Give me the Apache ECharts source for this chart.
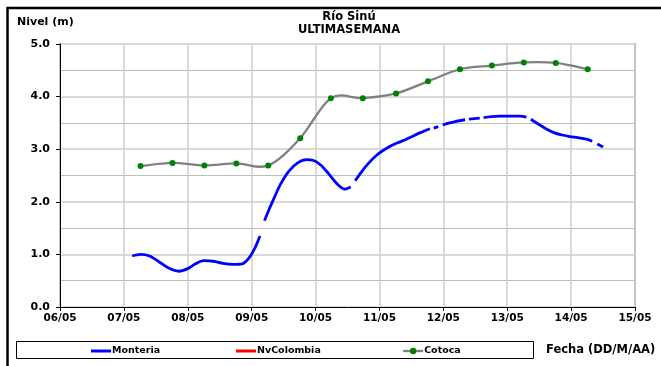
<!DOCTYPE html>
<html>
<head>
<meta charset="utf-8">
<script src="https://cdn.jsdelivr.net/npm/echarts@6/dist/echarts.min.js"></script>
<style>
  html, body { margin: 0; padding: 0; background: #fff; }
  #chart { width: 661px; height: 366px; }
</style>
</head>
<body>
<div id="chart"></div>
<script>
// Day of May (fractional) and river level in metres; null marks a gap in the record.
const montDays = [
  7.13, 7.26, 7.40, 7.55, 7.70, 7.86, 8.00, 8.12, 8.25, 8.40, 8.55, 8.70, 8.85, 8.95, 9.05, 9.13,
  9.16,
  9.20, 9.27, 9.34, 9.45, 9.58, 9.72, 9.86, 9.96, 10.08, 10.20, 10.33, 10.46, 10.55,
  10.58,
  10.62, 10.72, 10.82, 10.96, 11.16, 11.30, 11.42, 11.63, 11.79,
  11.82,
  11.85, 11.92,
  11.95,
  11.99, 12.10, 12.20, 12.34,
  12.37,
  12.40, 12.57,
  12.60,
  12.63, 12.75, 12.88, 13.00, 13.10, 13.20, 13.30,
  13.34,
  13.37, 13.51, 13.62, 13.74, 13.86, 13.98, 14.10, 14.24, 14.33,
  14.37,
  14.41, 14.50
];
const montLevels = [
  0.97, 1.00, 0.97, 0.86, 0.74, 0.68, 0.73, 0.82, 0.88, 0.87, 0.83, 0.81, 0.82, 0.92, 1.12, 1.35,
  null,
  1.64, 1.85, 2.04, 2.33, 2.58, 2.74, 2.80, 2.79, 2.70, 2.54, 2.35, 2.24, 2.28,
  null,
  2.40, 2.57, 2.72, 2.89, 3.05, 3.13, 3.19, 3.31, 3.39,
  null,
  3.40, 3.43,
  null,
  3.46, 3.50, 3.53, 3.56,
  null,
  3.57, 3.59,
  null,
  3.60, 3.62, 3.63, 3.63, 3.63, 3.63, 3.61,
  null,
  3.57, 3.46, 3.38, 3.31, 3.27, 3.24, 3.22, 3.19, 3.15,
  null,
  3.10, 3.04
];
const nvColDays = [];
const nvColLevels = [];
const cotDays = [7.26, 7.76, 8.26, 8.76, 9.26, 9.76, 10.24, 10.74, 11.26, 11.76, 12.26, 12.76, 13.26, 13.76, 14.26];
const cotLevels = [2.68, 2.74, 2.69, 2.73, 2.69, 3.21, 3.97, 3.97, 4.06, 4.29, 4.52, 4.59, 4.65, 4.64, 4.52];
const xTickLabels = ['06/05', '07/05', '08/05', '09/05', '10/05', '11/05', '12/05', '13/05', '14/05', '15/05'];

const pair = (xs, ys) => xs.map((x, i) => [x, ys[i] === null ? '-' : ys[i]]);
const FONT = 'DejaVu Sans';
const legendText = { fontFamily: FONT, fontSize: 9.5, fontWeight: 'bold', color: '#000', padding: [0, 0, 0, -4] };

// Cardinal (Catmull-Rom) curve through the Cotoca readings, placed with the chart's own axes.
function cotocaCurve(params, api) {
  const pts = cotDays.map((d, i) => api.coord([d, cotLevels[i]]));
  const n = pts.length;
  const children = [];
  for (let i = 0; i < n - 1; i++) {
    const p0 = pts[Math.max(i - 1, 0)], p1 = pts[i], p2 = pts[i + 1], p3 = pts[Math.min(i + 2, n - 1)];
    children.push({
      type: 'bezierCurve',
      shape: {
        x1: p1[0], y1: p1[1], x2: p2[0], y2: p2[1],
        cpx1: p1[0] + (p2[0] - p0[0]) / 6, cpy1: p1[1] + (p2[1] - p0[1]) / 6,
        cpx2: p2[0] - (p3[0] - p1[0]) / 6, cpy2: p2[1] - (p3[1] - p1[1]) / 6
      },
      style: { stroke: '#808080', lineWidth: 2.3, fill: null }
    });
  }
  return { type: 'group', children };
}

const chart = echarts.init(document.getElementById('chart'), null, { renderer: 'canvas' });
chart.setOption({
  backgroundColor: '#ffffff',
  animation: false,
  title: {
    text: 'Río Sinú',
    subtext: 'ULTIMASEMANA',
    left: 349,
    top: 11,
    textAlign: 'center',
    itemGap: 1,
    padding: 0,
    textStyle: { fontFamily: FONT, fontSize: 11.5, fontWeight: 'bold', color: '#000' },
    subtextStyle: { fontFamily: FONT, fontSize: 11.5, fontWeight: 'bold', color: '#000' }
  },
  grid: {
    left: 60, right: 26, top: 44, bottom: 59,
    show: true, borderColor: '#a6a6a6', borderWidth: 2, backgroundColor: '#fff'
  },
  legend: [
    { data: [{ name: 'Monteria', icon: 'rect' }], left: 91, top: 346, itemHeight: 3 },
    { data: [{ name: 'NvColombia', icon: 'rect' }], left: 236, top: 346, itemHeight: 3 },
    { data: ['Cotoca'], left: 402, top: 346, itemHeight: 8,
      lineStyle: { color: '#808080', width: 2.3, opacity: 1 } }
  ].map(l => Object.assign(l, {
    itemWidth: 20, itemGap: 2, padding: 0, textStyle: legendText
  })),
  xAxis: {
    type: 'value', min: 6, max: 15, interval: 1,
    axisLine: { show: true, lineStyle: { color: '#000', width: 1 } },
    axisTick: { show: true, length: 4, lineStyle: { color: '#000' } },
    axisLabel: {
      margin: 6, fontFamily: FONT, fontSize: 10.5, fontWeight: 'bold', color: '#000',
      formatter: v => xTickLabels[Math.round(v - 6)]
    },
    splitLine: { show: true, lineStyle: { color: '#cfcfcf', width: 1.5 } }
  },
  yAxis: {
    type: 'value', min: 0, max: 5, interval: 1,
    axisLine: { show: true, lineStyle: { color: '#000', width: 1 } },
    axisTick: { show: true, length: 4, lineStyle: { color: '#000' } },
    axisLabel: {
      margin: 10, fontFamily: FONT, fontSize: 11, fontWeight: 'bold', color: '#000',
      formatter: v => v.toFixed(1)
    },
    splitLine: { show: true, lineStyle: { color: '#dadada', width: 2 } },
    minorTick: { show: false, splitNumber: 2 },
    minorSplitLine: { show: true, lineStyle: { color: '#bdbdbd', width: 1 } }
  },
  series: [
    {
      name: 'Monteria', type: 'line', data: pair(montDays, montLevels),
      smooth: 0.3, connectNulls: false, showSymbol: false, symbol: 'none',
      lineStyle: { color: '#0000ff', width: 2.8 }, itemStyle: { color: '#0000ff' }, z: 3
    },
    {
      name: 'NvColombia', type: 'line', data: pair(nvColDays, nvColLevels),
      symbol: 'none', lineStyle: { color: '#ff0000', width: 2.5 }, itemStyle: { color: '#ff0000' }
    },
    {
      name: 'Cotoca', type: 'line', data: pair(cotDays, cotLevels),
      symbol: 'circle', symbolSize: 6,
      lineStyle: { color: '#808080', width: 2.3, opacity: 0 }, itemStyle: { color: '#008000' }, z: 4
    },
    {
      type: 'custom', data: [[cotDays[0], cotLevels[0]]],
      renderItem: cotocaCurve, silent: true, z: 2
    }
  ],
  graphic: [
    // outer frame (top and left edges)
    { type: 'line', shape: { x1: 7, y1: 8, x2: 661, y2: 8 }, style: { stroke: '#000', lineWidth: 2.5 } },
    { type: 'line', shape: { x1: 7.5, y1: 7, x2: 7.5, y2: 366 }, style: { stroke: '#000', lineWidth: 2.5 } },
    // legend box
    { type: 'rect', shape: { x: 16.5, y: 341.5, width: 517, height: 17 }, style: { fill: 'none', stroke: '#000', lineWidth: 1 }, z: -1 },
    { type: 'text', left: 17, top: 17, style: { text: 'Nivel (m)', font: 'bold 11px "DejaVu Sans"', fill: '#000' } },
    { type: 'text', left: 546, top: 344, style: { text: 'Fecha (DD/M/AA)', font: 'bold 11.5px "DejaVu Sans"', fill: '#000' } }
  ]
});
</script>
</body>
</html>
